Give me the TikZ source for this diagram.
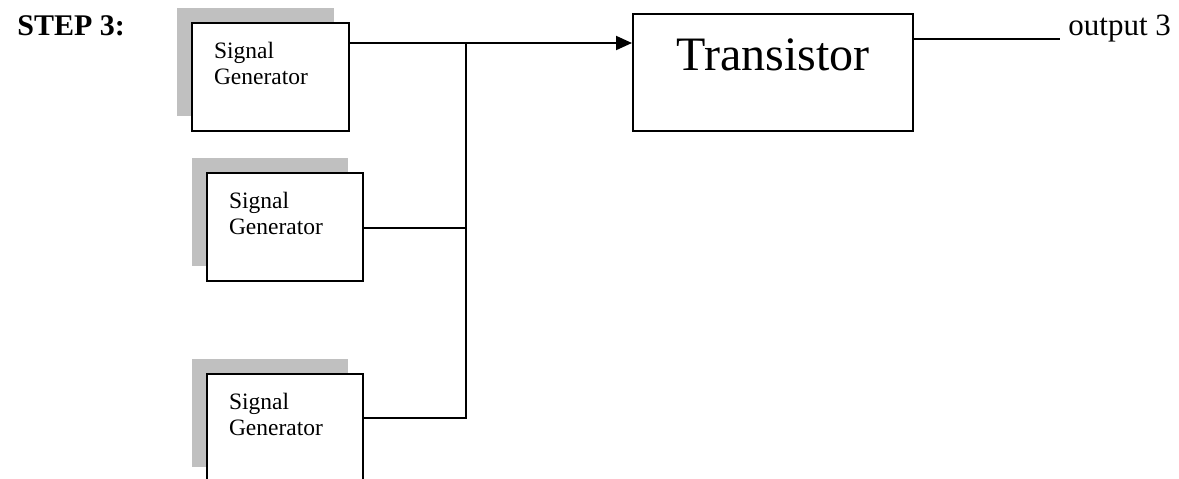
\documentclass[tikz,border=0pt]{standalone}
\usepackage{fontspec}
\setmainfont{Liberation Serif}
\usepackage{tikz}
\usetikzlibrary{arrows.meta,shadows}
\usepackage{xcolor}
\definecolor{shadowgray}{RGB}{192,192,192}

\tikzset{
	gen/.style={rectangle,
		draw = black,
		line width = 1pt,
		text = black,
		anchor = north west,
		fill = white,
		align = left,
		inner xsep = 11pt,
		inner ysep = 0pt,
		text height = 17.5pt,
		text depth = 36.5pt,
		font = \fontsize{11.75pt}{13pt}\selectfont,
		drop shadow = {shadow xshift=-7.5pt, shadow yshift=7.5pt, fill=shadowgray, opacity=1}},
	wire/.style={black, line width = 1pt}
}

\begin{document}
\begin{tikzpicture}[x=0.5pt, y=-0.5pt]
			
			\useasboundingbox (0,0) rectangle (1179,478);
			
			\node[anchor=base west,
			inner sep=0pt,
			font=\fontsize{15pt}{18pt}\selectfont\bfseries] (step) at (17,35) {STEP 3:};
			
			\node[gen, text width=56.5pt] (gen1) at (191,22) {Signal\\Generator};
			\node[gen, text width=56pt] (gen2) at (206,172) {Signal\\Generator};
			\node[gen, text width=56pt] (gen3) at (206,373) {Signal\\Generator};
			
			\node[rectangle,
			draw = black,
			line width = 1pt,
			text = black,
			anchor = north west,
			fill = white,
			minimum width = 140pt,
			inner ysep = 0pt,
			text height = 28pt,
			text depth = 30.5pt,
			font = \fontsize{24pt}{28pt}\selectfont] (trans) at (632,13) {Transistor};
			
			\node[anchor=base west,
			inner sep=0pt,
			font=\fontsize{15.5pt}{18pt}\selectfont] (out) at (1068,35) {output 3};
			
			
			\coordinate (j1) at (466,43);
			\coordinate (j2) at (466,228);
			\coordinate (j3) at (466,418);
			\coordinate (oend) at (1060,39);
			
			\draw[wire, -{Triangle[length=8pt, width=7pt]}] (j1 -| gen1.east) to (j1 -| trans.west);
			\draw[wire] (j2 -| gen2.east) to (j2);
			\draw[wire] (j3 -| gen3.east) -- (j3) -- (j1);
			\draw[black, line width=0.6pt] (oend -| trans.east) to (oend);
			
		\end{tikzpicture}
\end{document}
